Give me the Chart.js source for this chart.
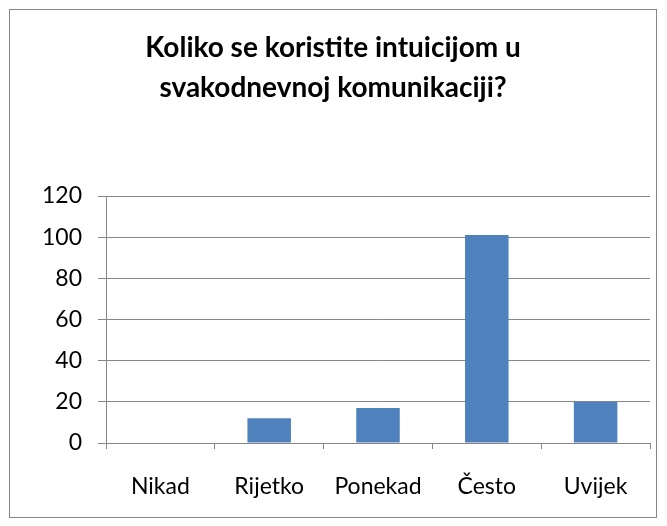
<!DOCTYPE html>
<html>
<head>
<meta charset="utf-8">
<script src="https://cdn.jsdelivr.net/npm/chart.js@4/dist/chart.umd.min.js"></script>
<style>
  html, body { margin: 0; padding: 0; background: #fff; }
  #wrap { position: absolute; left: 0; top: 0; width: 667px; height: 526px; }
</style>
</head>
<body>
<div id="wrap"><canvas id="c" width="667" height="526"></canvas></div>
<script>
const categories = ["Nikad", "Rijetko", "Ponekad", "Često", "Uvijek"];
const values = [0, 12, 17, 101, 20];
const titleLines = ["Koliko se koristite intuicijom u", "svakodnevnoj komunikaciji?"];
const yTicks = [0, 20, 40, 60, 80, 100, 120];

const FONT = "Lato, 'Liberation Sans', sans-serif";
const GRID = "#868686";

const framePlugin = {
  id: "frame",
  beforeDraw(chart) {
    const ctx = chart.ctx;
    ctx.save();
    ctx.fillStyle = "#fff";
    ctx.fillRect(0, 0, chart.width, chart.height);
    ctx.strokeStyle = GRID;
    ctx.lineWidth = 1;
    ctx.strokeRect(9.5, 9.5, 647, 508);
    ctx.restore();
  },
  afterDraw(chart) {
    const ctx = chart.ctx;
    ctx.save();
    ctx.fillStyle = "#000";
    ctx.font = "bold 28px " + FONT;
    ctx.textAlign = "center";
    ctx.textBaseline = "middle";
    titleLines.forEach((t, i) => ctx.fillText(t, 333, 48 + i * 40));
    ctx.restore();
  }
};

new Chart(document.getElementById("c"), {
  type: "bar",
  data: {
    labels: categories,
    datasets: [{
      data: values,
      backgroundColor: "#4F81BD",
      borderWidth: 0,
      barPercentage: 0.4,
      categoryPercentage: 1.0
    }]
  },
  options: {
    responsive: false,
    animation: false,
    devicePixelRatio: 1,
    layout: { padding: { left: 0, right: 17, top: 196, bottom: 10 } },
    plugins: { legend: { display: false }, title: { display: false }, tooltip: { enabled: false } },
    scales: {
      x: {
        offset: true,
        grid: {
          offset: true,
          drawOnChartArea: false,
          drawTicks: true,
          tickLength: 6,
          color: GRID
        },
        border: { color: GRID, width: 1 },
        ticks: { color: "#000", font: { family: FONT, size: 23 }, padding: 24 },
        afterFit(scale) { scale.height = 526 - 443 - 10; }
      },
      y: {
        min: 0,
        max: 120,
        afterBuildTicks(scale) { scale.ticks = yTicks.map(v => ({ value: v })); },
        grid: { color: GRID, tickLength: 8, drawTicks: true },
        border: { color: GRID, width: 1 },
        ticks: { color: "#000", font: { family: FONT, size: 23 }, padding: 16 },
        afterFit(scale) { scale.width = 106; }
      }
    }
  },
  plugins: [framePlugin]
});
</script>
</body>
</html>
